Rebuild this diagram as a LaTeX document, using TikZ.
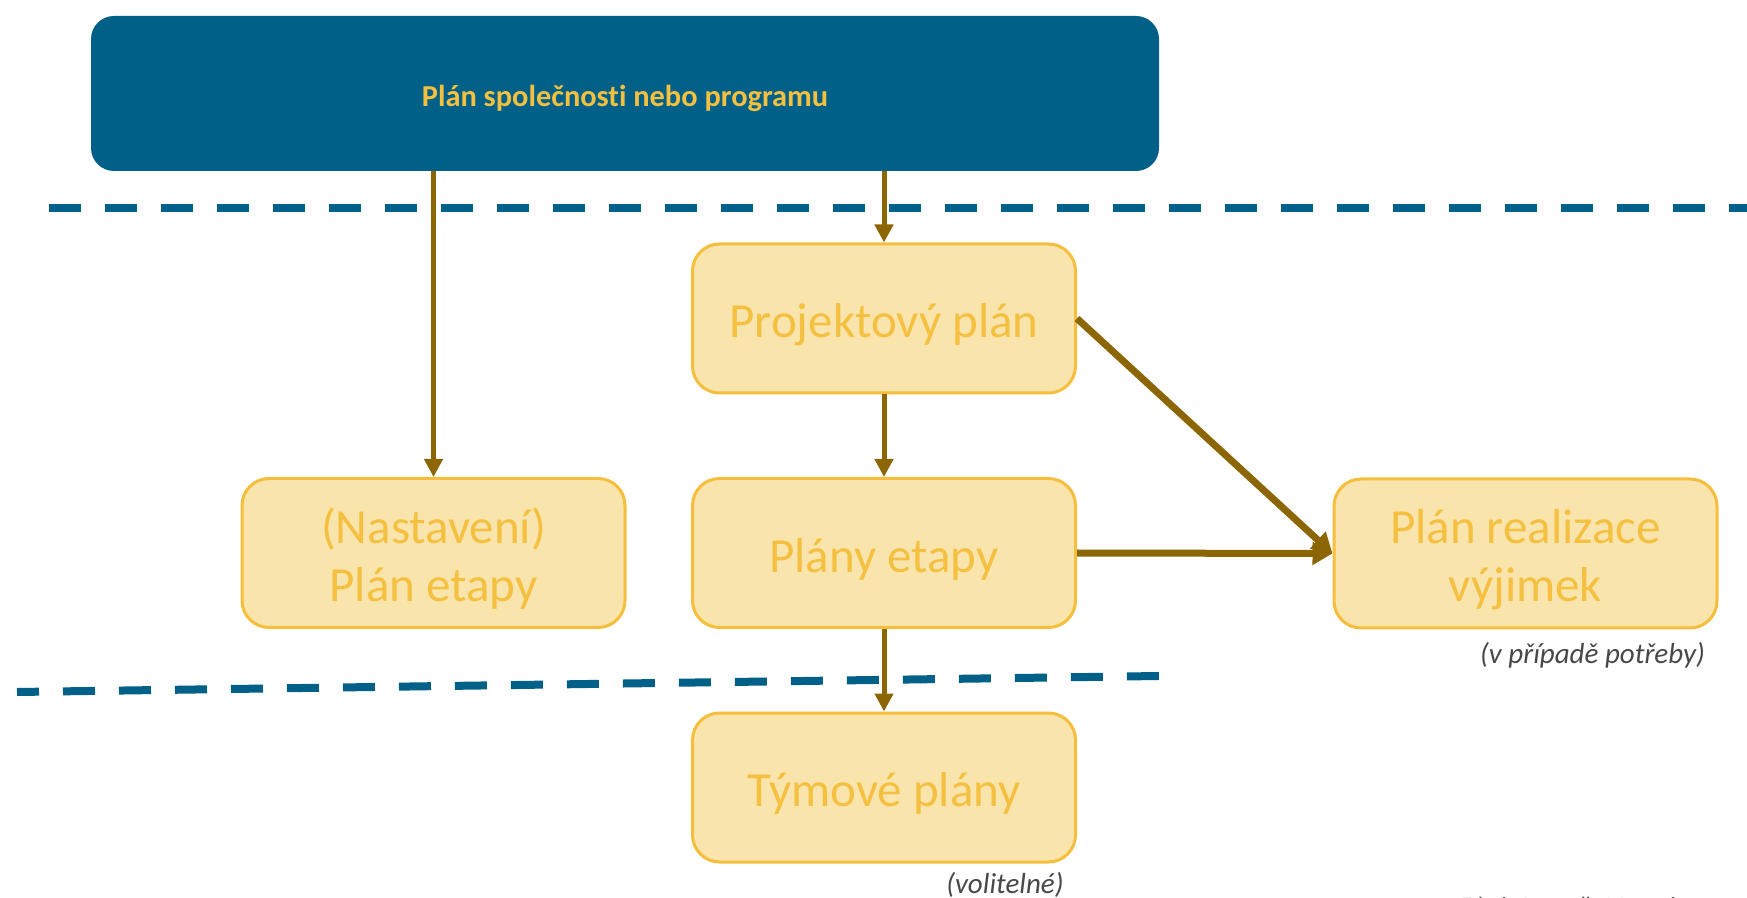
\documentclass[tikz,border=0pt]{standalone}
\usepackage{fontspec}
\setmainfont{Carlito}[Ligatures=NoCommon]
\usetikzlibrary{arrows.meta}

\definecolor{navy}{RGB}{0,96,135}
\definecolor{boxfill}{RGB}{249,228,171}
\definecolor{boxedge}{RGB}{245,190,60}
\definecolor{boxtext}{RGB}{245,192,64}
\definecolor{arrowbrown}{RGB}{140,101,5}
\definecolor{notegray}{RGB}{72,72,72}

\begin{document}
\begin{tikzpicture}[x=0.5pt,y=-0.5pt,
  stage/.style={draw=boxedge, line width=1.5pt, fill=boxfill,
    rounded corners=13.5pt, minimum width=191.5pt, minimum height=74.5pt,
    inner sep=0pt},
  stagetext/.style={inner sep=0pt, align=center, text=boxtext,
    font=\fontsize{24.5}{29}\selectfont, yshift=-3pt},
  headbox/.style={fill=navy, rounded corners=11.5pt,
    minimum width=534pt, minimum height=77.5pt, inner sep=0pt},
  headtext/.style={inner sep=0pt, text=boxtext, yshift=-2.5pt,
    font=\bfseries\fontsize{15.2}{18}\selectfont},
  flow/.style={draw=arrowbrown, line width=2.5pt,
    -{Triangle[length=9pt,width=9pt]}},
  flowbold/.style={draw=arrowbrown, line width=3.5pt,
    -{Triangle[length=10pt,width=11pt]}},
  level/.style={draw=navy, line width=4pt, dash pattern=on 16pt off 12pt},
  note/.style={text=notegray, font=\itshape\fontsize{14.5}{17}\selectfont,
    inner sep=0pt, anchor=base}
]
\useasboundingbox (0,0) rectangle (1747,898);
\clip (0,0) rectangle (1747,898);

% boundary lines between management levels
\coordinate (la) at (49,208);
\coordinate (lb) at (1780,208);
\coordinate (lc) at (17,692);
\coordinate (ld) at (1159,676);
\draw[level] (la) -- (lb);
\draw[level, dash phase=5pt] (lc) -- (ld);

% plans
\node[headbox] (corp) at (625,93.5) {};
\node[headtext] (corpt) at (corp.center) {Plán společnosti nebo programu};
\node[stage] (proj) at (884,318.5) {};
\node[stagetext] (projt) at (proj.center) {Projektový plán};
\node[stage] (stage) at (884,553) {};
\node[stagetext] (staget) at (stage.center) {Plány etapy};
\node[stage] (init) at (433.5,553) {};
\node[stagetext] (initt) at (init.center) {(Nastavení)\\Plán etapy};
\node[stage] (exc) at (1525.5,553.5) {};
\node[stagetext] (exct) at (exc.center) {Plán realizace\\výjimek};
\node[stage] (team) at (884,787.5) {};
\node[stagetext] (teamt) at (team.center) {Týmové plány};

% remarks
\node[note] (excnote) at (1592.5,663) {(v případě potřeby)};
\node[note] (teamnote) at (1005,893) {(volitelné)};
\node[note, anchor=base west, font=\itshape\fontsize{11}{13}\selectfont] (src) at (1460,912) {Zdroj: Autor dle Magazín};

% relations
\draw[flow] (corp.south -| init.north) -- (init.north);
\draw[flow] (corp.south -| proj.north) -- (proj.north);
\draw[flow] (proj.south) -- (stage.north);
\draw[flow] (stage.south) -- (team.north);
\draw[flowbold] (proj.east) -- (exc.west);
\draw[flowbold] (stage.east) -- (exc.west);
\end{tikzpicture}
\end{document}
